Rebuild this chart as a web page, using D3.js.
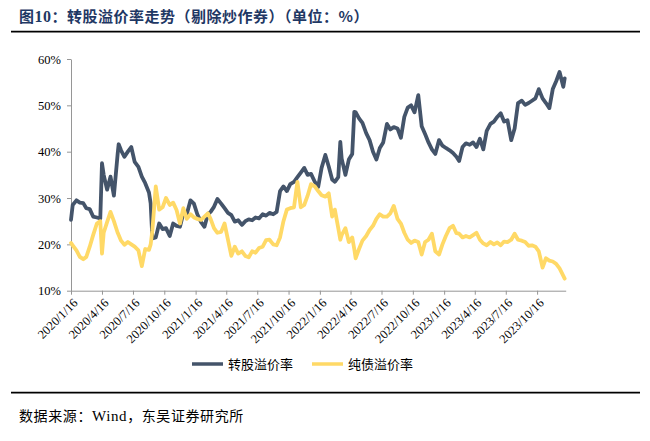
<!DOCTYPE html>
<html><head><meta charset="utf-8">
<script src="https://cdn.jsdelivr.net/npm/d3@7/dist/d3.min.js"></script>
<style>body{margin:0;background:#fff}svg{display:block}</style>
</head><body>
<svg id="chart" width="650" height="441"></svg>
<script>
// ---------- data ----------
const dates = [
  // 2020
  "2020-01-16","2020-01-21","2020-02-01","2020-02-11","2020-02-21","2020-03-01","2020-03-11","2020-03-21",
  "2020-04-01","2020-04-11","2020-04-16","2020-04-21","2020-05-01","2020-05-11","2020-05-21",
  "2020-06-01","2020-06-04","2020-06-11","2020-06-21","2020-07-01","2020-07-11","2020-07-21",
  "2020-08-01","2020-08-11","2020-08-21","2020-09-01","2020-09-06","2020-09-11","2020-09-21",
  "2020-10-01","2020-10-11","2020-10-21","2020-11-01","2020-11-11","2020-11-21","2020-12-01","2020-12-11","2020-12-21",
  // 2021
  "2021-01-01","2021-01-11","2021-01-21","2021-02-01","2021-02-11","2021-02-21","2021-03-01","2021-03-11","2021-03-21",
  "2021-04-01","2021-04-11","2021-04-21","2021-05-01","2021-05-11","2021-05-21","2021-06-01","2021-06-11","2021-06-21",
  "2021-07-01","2021-07-11","2021-07-21","2021-08-01","2021-08-11","2021-08-21","2021-09-01","2021-09-11","2021-09-21",
  "2021-10-01","2021-10-11","2021-10-21","2021-11-01","2021-11-11","2021-11-21","2021-12-01","2021-12-11","2021-12-21",
  // 2022
  "2022-01-01","2022-01-11","2022-01-21","2022-02-01","2022-02-11","2022-02-21","2022-03-01","2022-03-11","2022-03-17","2022-03-21",
  "2022-04-01","2022-04-11","2022-04-21","2022-04-27","2022-05-01","2022-05-11","2022-05-21","2022-06-01","2022-06-11","2022-06-21",
  "2022-07-01","2022-07-11","2022-07-21","2022-08-01","2022-08-11","2022-08-21","2022-09-01","2022-09-11","2022-09-21",
  "2022-10-01","2022-10-11","2022-10-21","2022-11-01","2022-11-11","2022-11-21","2022-12-01","2022-12-11","2022-12-21",
  // 2023
  "2023-01-01","2023-01-11","2023-01-21","2023-02-01","2023-02-11","2023-02-21","2023-03-01","2023-03-11","2023-03-21",
  "2023-04-01","2023-04-11","2023-04-21","2023-05-01","2023-05-11","2023-05-21","2023-06-01","2023-06-11","2023-06-21",
  "2023-07-01","2023-07-11","2023-07-21","2023-08-01","2023-08-11","2023-08-21","2023-09-01","2023-09-11","2023-09-21",
  "2023-10-01","2023-10-11","2023-10-21","2023-11-01","2023-11-11","2023-11-21","2023-12-01","2023-12-11","2023-12-21",
  // 2024
  "2024-01-01","2024-01-05"
];

// 转股溢价率 (%)
const convPremium = [
  // 2020
  25.3,28.5,29.5,29.0,28.9,27.8,27.6,26.0,
  25.8,25.6,37.5,35.0,31.8,34.6,30.5,
  39.5,41.6,40.3,38.9,40.0,41.0,37.8,
  36.7,34.6,33.2,31.2,28.8,21.3,21.5,
  24.5,23.3,23.5,21.8,24.5,24.0,23.8,26.7,26.5,
  // 2021
  29.5,28.8,26.5,24.8,23.8,26.5,27.0,28.1,29.8,
  28.8,27.8,26.8,26.3,24.9,25.2,24.2,25.0,25.4,
  25.2,25.8,25.6,26.5,26.2,26.8,26.5,27.0,31.5,
  32.5,31.5,33.0,33.5,34.5,35.5,36.5,35.0,35.2,
  // 2022
  33.5,32.4,36.5,39.3,36.8,34.0,33.5,34.5,42.1,38.5,
  35.0,38.3,39.5,48.6,48.5,47.2,46.2,44.0,42.5,40.0,
  38.3,40.8,42.0,46.0,44.8,45.3,45.0,43.0,47.5,
  49.5,50.0,48.5,52.2,45.5,43.8,42.0,40.5,39.5,
  // 2023
  42.5,41.3,40.8,40.3,39.7,38.9,38.0,41.0,41.8,
  41.5,42.0,41.0,42.8,40.5,44.5,46.0,46.5,47.5,
  48.3,46.5,46.8,42.5,45.0,50.5,51.0,50.1,50.5,
  51.0,51.5,53.5,51.5,50.5,49.4,53.5,55.2,57.2,
  // 2024
  54.0,55.8
];

// 纯债溢价率 (%)
const bondPremium = [
  // 2020
  20.3,19.8,18.7,17.3,16.8,17.3,19.5,22.0,
  24.5,25.0,18.0,22.5,24.8,27.0,25.0,
  22.5,22.0,20.8,19.9,20.5,20.0,19.5,
  18.7,15.3,19.0,18.8,20.0,23.0,32.5,
  27.5,28.0,30.0,28.5,29.0,27.4,24.5,27.8,25.5,
  // 2021
  26.5,25.8,25.5,25.3,26.0,26.7,25.5,23.5,22.5,
  22.7,24.5,21.0,17.5,19.5,18.0,18.5,17.5,17.2,
  18.5,18.2,19.2,19.5,20.9,21.0,20.0,19.8,21.5,
  25.0,27.5,27.8,28.0,33.5,28.0,28.5,30.5,33.0,
  // 2022
  32.5,31.5,30.6,30.3,31.0,26.0,27.5,23.5,21.0,22.0,
  23.5,20.5,21.5,19.0,17.0,19.0,20.8,21.8,23.1,24.0,
  25.5,26.5,26.0,26.0,26.7,28.3,25.5,24.5,22.5,
  21.0,20.3,20.8,20.5,17.8,20.5,21.0,22.3,18.5,
  // 2023
  17.8,20.0,21.8,23.5,24.0,22.4,22.3,21.5,21.8,
  21.5,22.0,22.5,21.0,20.2,19.8,20.5,20.0,20.4,
  19.8,20.6,20.5,21.0,22.3,21.0,20.8,20.5,19.7,
  19.8,19.5,18.5,15.0,17.0,16.5,16.3,15.8,14.8,
  // 2024
  13.2,12.6
];

const seriesNames = ["转股溢价率", "纯债溢价率"];
const seriesColors = ["#44546A", "#FFD966"];
const yTicks = [10, 20, 30, 40, 50, 60];
const xTickLabels = ["2020/1/16","2020/4/16","2020/7/16","2020/10/16","2021/1/16","2021/4/16","2021/7/16","2021/10/16",
  "2022/1/16","2022/4/16","2022/7/16","2022/10/16","2023/1/16","2023/4/16","2023/7/16","2023/10/16"];
const titleText = ["图", "10", "：转股溢价率走势（剔除炒作券）（单位：%）"];
const sourceText = ["数据来源：", "Wind", "，东吴证券研究所"];

// ---------- drawing ----------
const parseDate = d3.timeParse("%Y-%m-%d");
const parseTick = d3.timeParse("%Y/%-m/%-d");
const svg = d3.select("#chart");
const serif = "'Liberation Serif','Times New Roman',serif";
const cjk = "'Noto Sans CJK SC','Noto Sans',sans-serif";

const x = d3.scaleTime()
  .domain([parseDate("2020-01-16"), parseDate("2024-01-08")])
  .range([71, 565.7]);
const y = d3.scaleLinear().domain([10, 60]).range([290.7, 59]);

// title
const t = svg.append("text").attr("x", 19).attr("y", 22)
  .attr("fill", "#1F3864").attr("font-size", 15).attr("font-weight", "bold")
  .attr("letter-spacing", 0.5).attr("font-family", cjk);
t.append("tspan").text(titleText[0]);
t.append("tspan").attr("font-family", serif).attr("font-size", 16).text(titleText[1]);
t.append("tspan").text(titleText[2]);

svg.append("line").attr("x1", 11).attr("x2", 640).attr("y1", 31.7).attr("y2", 31.7)
  .attr("stroke", "#000").attr("stroke-width", 1.8);
svg.append("line").attr("x1", 11).attr("x2", 640).attr("y1", 392.7).attr("y2", 392.7)
  .attr("stroke", "#000").attr("stroke-width", 1.8);

// source
const s = svg.append("text").attr("x", 19).attr("y", 420.5)
  .attr("fill", "#000").attr("font-size", 14).attr("letter-spacing", 0.6).attr("font-family", cjk);
s.append("tspan").text(sourceText[0]);
s.append("tspan").attr("font-family", serif).attr("font-size", 15).text(sourceText[1]);
s.append("tspan").text(sourceText[2]);

// y axis
const yAxis = svg.append("g").attr("transform", "translate(71,0)")
  .call(d3.axisLeft(y).tickValues(yTicks).tickSize(4).tickSizeOuter(0).tickPadding(6)
    .tickFormat(d => d + "%"));
yAxis.select(".domain").attr("stroke", "#969696");
yAxis.selectAll(".tick line").attr("stroke", "#969696");
yAxis.selectAll(".tick text").attr("font-family", serif).attr("font-size", 12.5).attr("fill", "#000");

// x axis
const xAxis = svg.append("g").attr("transform", "translate(0,290.7)")
  .call(d3.axisBottom(x).tickValues(xTickLabels.map(parseTick)).tickSize(4).tickSizeOuter(0)
    .tickFormat(d3.timeFormat("%Y/%-m/%-d")));
xAxis.select(".domain").attr("stroke", "#969696");
xAxis.selectAll(".tick line").attr("stroke", "#969696");
xAxis.selectAll(".tick text")
  .attr("font-family", serif).attr("font-size", 12.5).attr("fill", "#000")
  .attr("text-anchor", "end").attr("y", 0).attr("dy", 0)
  .attr("transform", "translate(7,13) rotate(-45)");

// lines
const series = [convPremium, bondPremium];
const line = d3.line().x((d, i) => x(parseDate(dates[i]))).y(d => y(d));
series.forEach((vals, k) => {
  svg.append("path").datum(vals)
    .attr("d", line)
    .attr("fill", "none")
    .attr("stroke", seriesColors[k])
    .attr("stroke-width", 3.8)
    .attr("stroke-linejoin", "round")
    .attr("stroke-linecap", "round");
});

// legend
const legendX = [192, 312];
seriesNames.forEach((name, k) => {
  svg.append("line").attr("x1", legendX[k]).attr("x2", legendX[k] + 31)
    .attr("y1", 364).attr("y2", 364)
    .attr("stroke", seriesColors[k]).attr("stroke-width", 3.5);
  svg.append("text").attr("x", legendX[k] + 36).attr("y", 368.5)
    .attr("font-family", cjk).attr("font-size", 13).attr("fill", "#000")
    .text(name);
});
</script>
</body></html>
